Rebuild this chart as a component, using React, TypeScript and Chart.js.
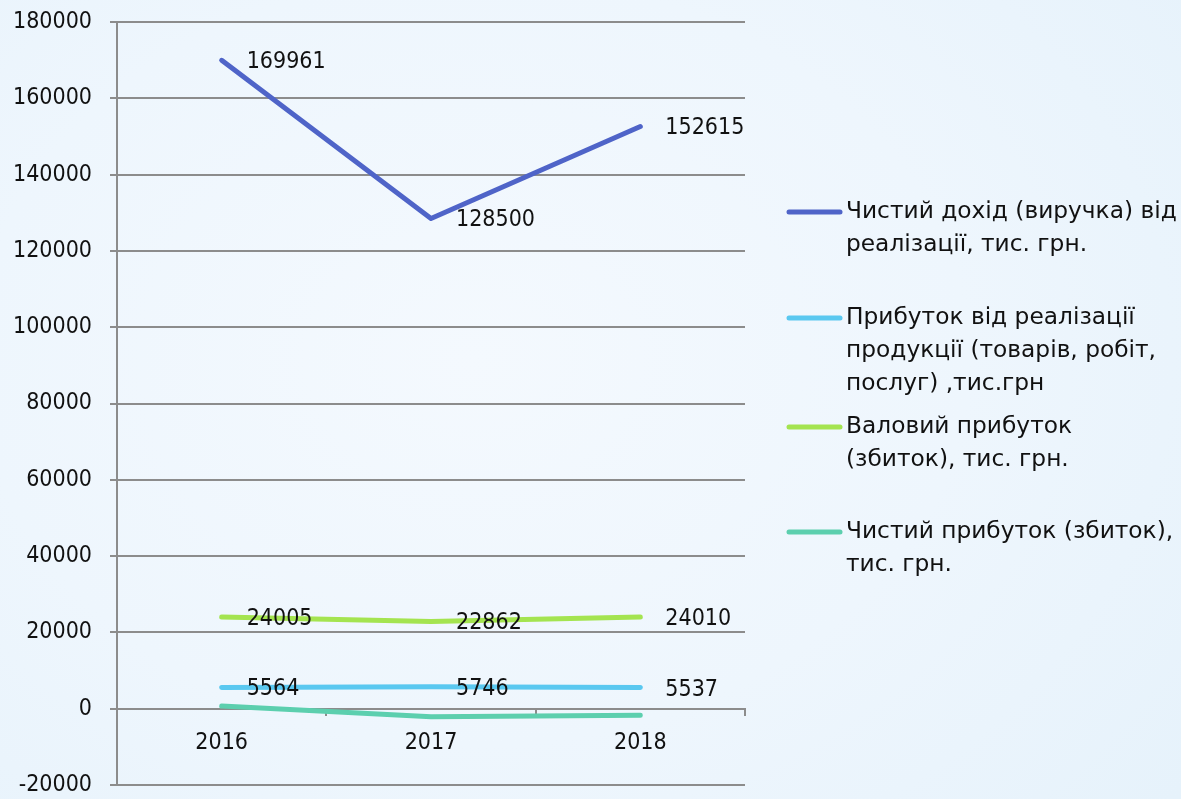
import React, { useEffect, useRef } from "react";
import { Chart, registerables } from "chart.js";

Chart.register(...registerables);

const years = ["2016", "2017", "2018"];
const revenue = [169961, 128500, 152615];
const salesProfit = [5564, 5746, 5537];
const grossProfit = [24005, 22862, 24010];
const netProfit = [700, -2100, -1700];

const legendLines = [
  ["Чистий дохід (виручка) від", "реалізації, тис. грн."],
  ["Прибуток від реалізації", "продукції (товарів, робіт,", "послуг) ,тис.грн"],
  ["Валовий прибуток", "(збиток), тис. грн."],
  ["Чистий прибуток (збиток),", "тис. грн."],
];
const seriesValues = [revenue, salesProfit, grossProfit, netProfit];
const seriesColors = ["#4f64c8", "#5ac8f0", "#a4e450", "#5ccfae"];
const seriesShowLabels = [true, true, true, false];

const yMin = -20000;
const yMax = 180000;
const yStep = 20000;

const FAMILY = "'DejaVu Sans Condensed', 'DejaVu Sans', sans-serif";
const LEGEND_FAMILY = "'DejaVu Sans', sans-serif";
const FONT_SIZE = 23;
const LEGEND_FONT_SIZE = 23.3;
const LEGEND_Y = [212, 318, 427, 532];
const LEGEND_LINE_H = 33;

const labelPlugin = {
  id: "valueLabels",
  afterDatasetsDraw(chart: any) {
    const ctx = chart.ctx;
    ctx.save();
    ctx.font = `${FONT_SIZE}px ${FAMILY}`;
    ctx.fillStyle = "#111";
    ctx.textAlign = "left";
    ctx.textBaseline = "middle";
    chart.data.datasets.forEach((ds: any, i: number) => {
      if (!seriesShowLabels[i]) return;
      const meta = chart.getDatasetMeta(i);
      meta.data.forEach((pt: any, j: number) => {
        ctx.fillText(String(ds.data[j]), pt.x + 25, pt.y + 2);
      });
    });
    ctx.restore();
  },
};

const legendPlugin = {
  id: "sideLegend",
  afterDraw(chart: any) {
    const ctx = chart.ctx;
    ctx.save();
    ctx.font = `${LEGEND_FONT_SIZE}px ${LEGEND_FAMILY}`;
    ctx.fillStyle = "#111";
    ctx.textAlign = "left";
    ctx.textBaseline = "middle";
    chart.data.datasets.forEach((ds: any, i: number) => {
      const y0 = LEGEND_Y[i];
      ctx.strokeStyle = ds.borderColor;
      ctx.lineWidth = 5;
      ctx.lineCap = "round";
      ctx.beginPath();
      ctx.moveTo(789, y0);
      ctx.lineTo(840, y0);
      ctx.stroke();
      legendLines[i].forEach((line, k) => {
        ctx.fillText(line, 846, y0 + k * LEGEND_LINE_H);
      });
    });
    ctx.restore();
  },
};

export default function App() {
  const ref = useRef<HTMLCanvasElement | null>(null);
  useEffect(() => {
    if (!ref.current) return;
    const chart = new Chart(ref.current, {
      type: "line",
      data: {
        labels: years,
        datasets: seriesValues.map((vals, i) => ({
          label: legendLines[i].join(" "),
          data: vals,
          borderColor: seriesColors[i],
          backgroundColor: seriesColors[i],
          borderWidth: 5,
          borderCapStyle: "round",
          borderJoinStyle: "round",
          pointRadius: 0,
          tension: 0,
          fill: false,
        })),
      },
      options: {
        animation: false,
        responsive: false,
        maintainAspectRatio: false,
        layout: { padding: { left: 0, top: 22, right: 436, bottom: 14 } },
        plugins: { legend: { display: false }, tooltip: { enabled: false } },
        scales: {
          x: {
            type: "category",
            offset: true,
            position: { y: 0 } as any,
            afterFit(scale: any) {
              scale.height = 0;
              scale.paddingLeft = 0;
              scale.paddingRight = 0;
            },
            grid: {
              display: true,
              drawOnChartArea: false,
              drawTicks: true,
              tickLength: 6,
              offset: true,
              color: "#8c8c8c",
              lineWidth: 2,
            },
            border: { display: true, color: "#8c8c8c", width: 2 },
            ticks: {
              color: "#111",
              font: { family: FAMILY, size: FONT_SIZE },
              padding: 15,
              maxRotation: 0,
            },
          },
          y: {
            min: yMin,
            max: yMax,
            afterFit(scale: any) {
              scale.width = 117;
              scale.paddingTop = 0;
              scale.paddingBottom = 0;
            },
            grid: {
              color: "#8c8c8c",
              lineWidth: 2,
              tickLength: 7,
            },
            border: { display: true, color: "#8c8c8c", width: 2 },
            ticks: {
              stepSize: yStep,
              color: "#111",
              font: { family: FAMILY, size: FONT_SIZE },
              padding: 18,
              callback: (v: any) => String(v),
            },
          },
        },
      },
      plugins: [labelPlugin, legendPlugin],
    });
    return () => chart.destroy();
  }, []);

  return (
    <div
      style={{
        position: "absolute",
        left: 0,
        top: 0,
        width: 1181,
        height: 799,
        background:
          "radial-gradient(ellipse 900px 700px at 40% 45%, #f4f9fe 0%, #eef6fd 55%, #e6f2fb 100%)",
      }}
    >
      <canvas ref={ref} width={1181} height={799} style={{ display: "block" }} />
    </div>
  );
}
